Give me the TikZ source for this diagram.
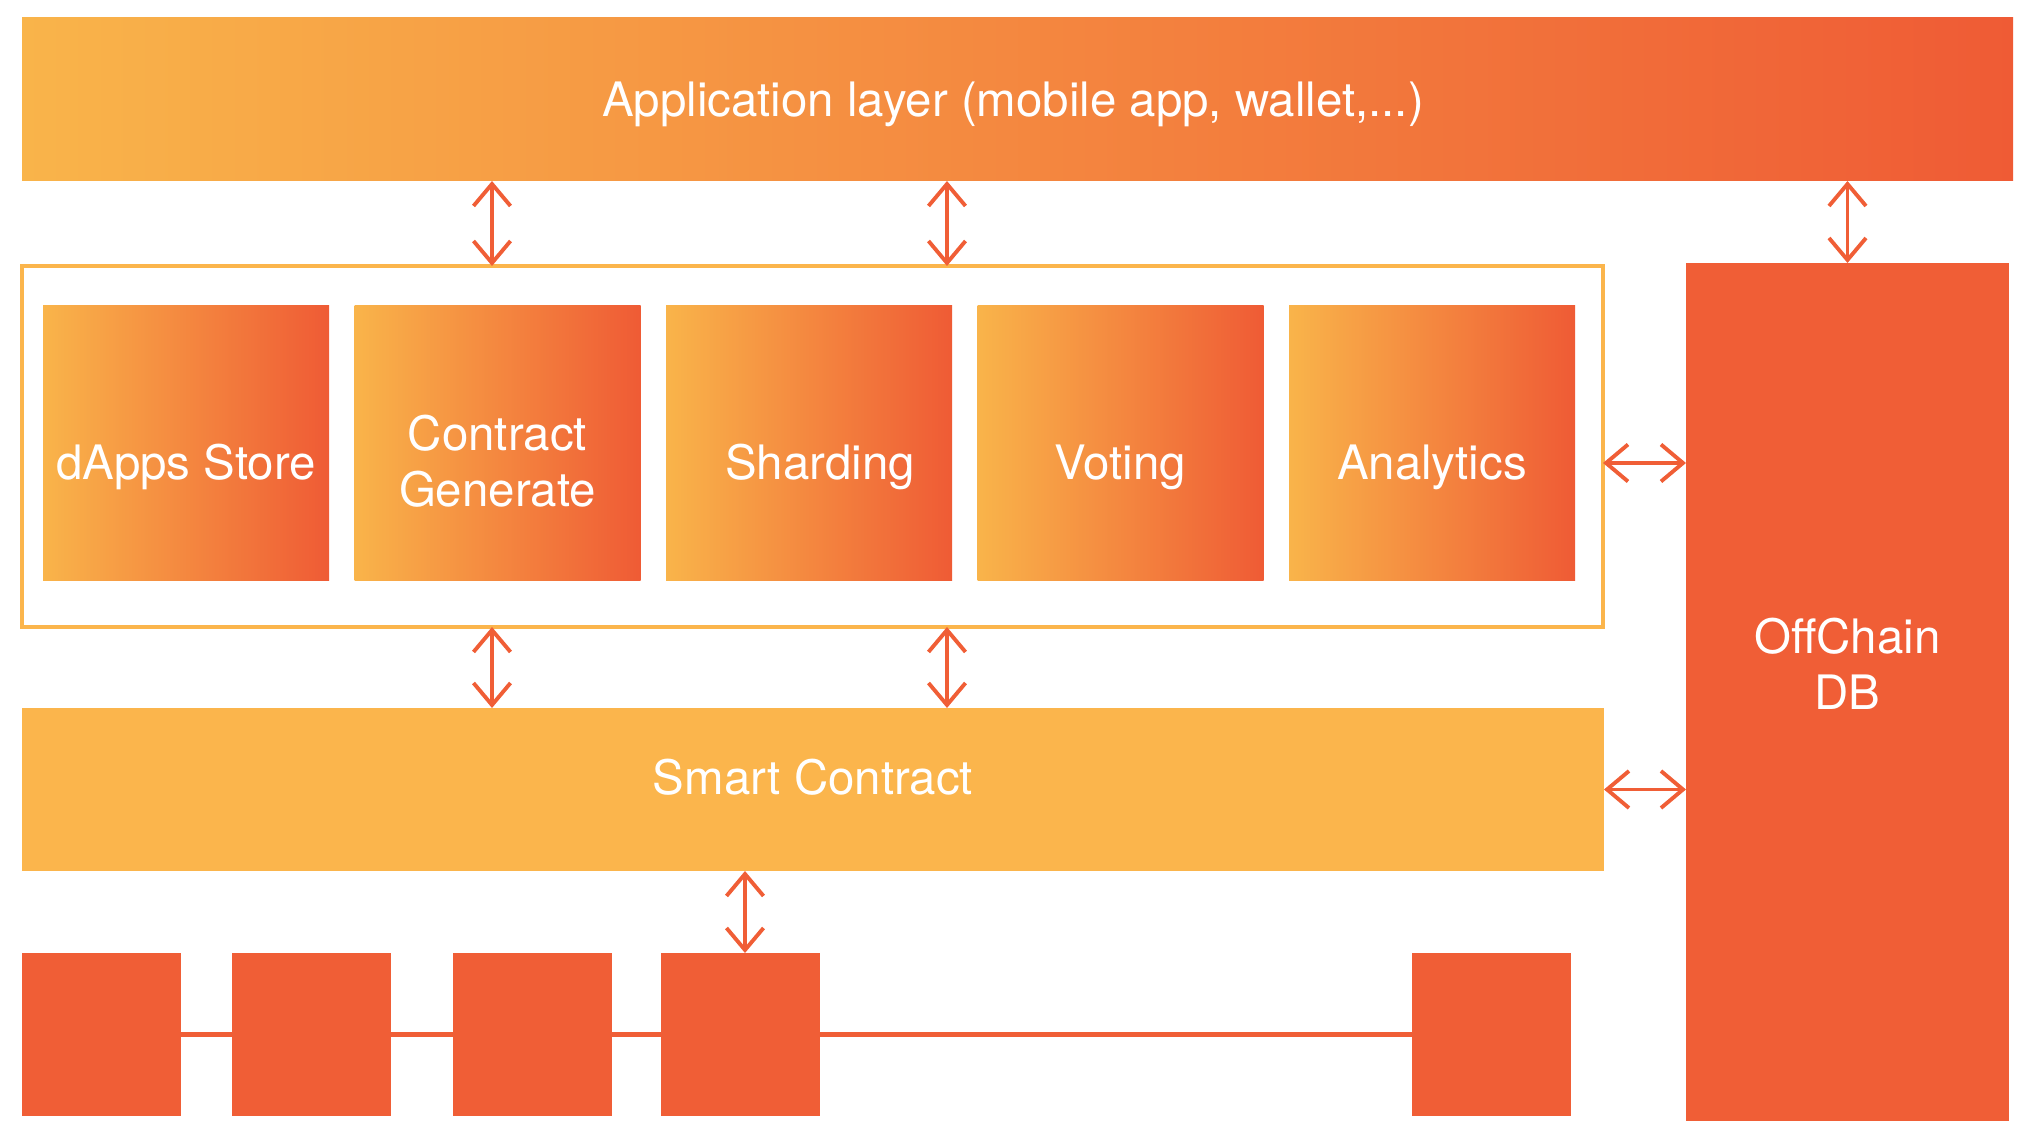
\documentclass[tikz,border=0pt]{standalone}
\usepackage{fontspec}
\setmainfont{TeX Gyre Heros}
\usepackage{tikz}
\usetikzlibrary{arrows.meta}
\definecolor{gradL}{HTML}{F9B44A}
\definecolor{gradR}{HTML}{EF5B35}
\definecolor{chainred}{HTML}{F05E36}
\definecolor{contractyellow}{HTML}{FBB54C}
\tikzset{
  layer/.style={inner sep=0pt, outer sep=0pt, text=white, font=\fontsize{13.5pt}{16pt}\selectfont, align=center},
  shadebox/.style={layer, left color=gradL, right color=gradR},
  module/.style={shadebox, minimum width=28.6mm, minimum height=27.5mm},
  block/.style={layer, fill=chainred, minimum width=15.9mm, minimum height=16.3mm},
  biarrow/.style={draw=chainred, line width=1.1pt, {Straight Barb[length=2.2mm,width=3.7mm]}-{Straight Barb[length=2.2mm,width=3.7mm]}},
}
\begin{document}
\begin{tikzpicture}[x=0.1mm, y=-0.1mm]
	\useasboundingbox (0,0) rectangle (2032,1146);
	% layers
	\node[shadebox, minimum width=199.1mm, minimum height=16.3mm] (app) at (1017.5,99.5) {};
	\node[layer] (apptext) at (1013,104) {Application layer (mobile app, wallet,...)};
	\node[layer, draw=contractyellow, line width=1pt, minimum width=158.1mm, minimum height=36.1mm] (frame) at (812.5,446.5) {};
	\node[layer, fill=contractyellow, minimum width=158.2mm, minimum height=16.3mm] (smart) at (813,789.5) {};
	\node[layer] (smarttext) at (813,777) {Smart Contract};
	\node[layer, fill=chainred, minimum width=32.3mm, minimum height=85.8mm] (offdb) at (1847.5,692) {};
	\node[layer] (offdbtext) at (1847.5,664) {OffChain\\DB};
	% modules
	\node[module] (store) at (186,443.5) {};
	\node[module] (contract) at (497.5,443.5) {};
	\node[module] (shard) at (809,443.5) {};
	\node[module] (vote) at (1120.5,443.5) {};
	\node[module] (stats) at (1432,443.5) {};
	\node[layer] (storetext) at (186,467) {dApps Store};
	\node[layer] (contracttext) at (497.5,461) {Contract\\Generate};
	\node[layer] (shardtext) at (820,467) {Sharding};
	\node[layer] (votetext) at (1120.5,467) {Voting};
	\node[layer] (statstext) at (1432,467) {Analytics};
	% chain
	\node[block] (b1) at (101.5,1034.5) {};
	\node[block] (b2) at (311.5,1034.5) {};
	\node[block] (b3) at (532,1034.5) {};
	\node[block] (b4) at (740.5,1034.5) {};
	\node[block] (b5) at (1491,1034.5) {};
	\draw[chainred, line width=1.3pt] (b1) -- (b2) (b2) -- (b3) (b3) -- (b4) (b4) -- (b5);
	% arrows
	\coordinate (left) at (492,0);
	\coordinate (mid) at (947,0);
	\coordinate (low) at (745,0);
	\coordinate (row) at (0,463);
	\draw[biarrow] (app.south -| left) -- (frame.north -| left);
	\draw[biarrow] (app.south -| mid) -- (frame.north -| mid);
	\draw[biarrow] (app.south -| offdb) -- (offdb.north);
	\draw[biarrow] (frame.south -| left) -- (smart.north -| left);
	\draw[biarrow] (frame.south -| mid) -- (smart.north -| mid);
	\draw[biarrow] (frame.east |- row) -- (offdb.west |- row);
	\draw[biarrow] (smart.east) -- (offdb.west |- smart);
	\draw[biarrow] (smart.south -| low) -- (b4.north -| low);
\end{tikzpicture}
\end{document}
